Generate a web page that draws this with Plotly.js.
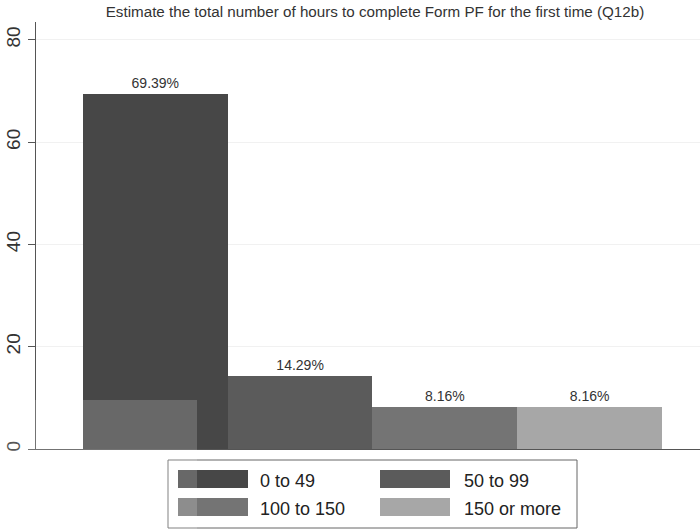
<!DOCTYPE html>
<html>
<head>
<meta charset="utf-8">
<script src="https://cdn.plot.ly/plotly-3.0.1.min.js"></script>
<style>html,body{margin:0;padding:0;background:#fff;}#chart{width:700px;height:529px;}</style>
</head>
<body>
<div id="chart"></div>
<script>
// Data
var categories = ["0 to 49", "50 to 99", "100 to 150", "150 or more"];
var percents = [69.39, 14.29, 8.16, 8.16];
var barColors = ["#474747", "#5b5b5b", "#747474", "#a7a7a7"];
var titleText = "Estimate the total number of hours to complete Form PF for the first time (Q12b)";
var yTicks = [0, 20, 40, 60, 80];
var legendOrder = [0, 1, 2, 3]; // row-major: row1: 0,1 ; row2: 2,3

var FONT = "Liberation Sans, Arial, Helvetica, sans-serif";
var W = 700, H = 529;
var M = {l: 36, r: 0, t: 22, b: 80};
var pw = W - M.l - M.r, ph = H - M.t - M.b;
function px(x) { return (x - M.l) / pw; }
function py(y) { return (H - M.b - y) / ph; }

var trace = {
  type: "bar",
  x: categories.map(function (c, i) { return i; }),
  y: percents,
  width: 1,
  marker: {color: barColors, line: {width: 0}},
  text: percents.map(function (v) { return v.toFixed(2) + "%"; }),
  textposition: "outside",
  textfont: {family: FONT, size: 14, color: "#333"},
  cliponaxis: false,
  hoverinfo: "skip",
  showlegend: false
};

var shapes = [];
var annotations = [];
// legend box
shapes.push({type: "rect", xref: "paper", yref: "paper",
  x0: px(168), x1: px(577), y0: py(528), y1: py(460),
  line: {color: "#666", width: 1}, fillcolor: "rgba(0,0,0,0)"});
var colKeyX = [178, 380], colLabelX = [258, 462];
var rowY = [[470, 488], [498, 516]];
legendOrder.forEach(function (idx, k) {
  var col = k % 2, row = Math.floor(k / 2);
  shapes.push({type: "rect", xref: "paper", yref: "paper",
    x0: px(colKeyX[col]), x1: px(colKeyX[col] + 70),
    y0: py(rowY[row][1]), y1: py(rowY[row][0]),
    line: {width: 0}, fillcolor: barColors[idx]});
  annotations.push({xref: "paper", yref: "paper", x: px(colLabelX[col]),
    y: py((rowY[row][0] + rowY[row][1]) / 2 + 2), xanchor: "left", yanchor: "middle",
    text: categories[idx], showarrow: false,
    font: {family: FONT, size: 18, color: "#222"}});
});
// faded scan artifact over the lower-left corner of the reference image
shapes.push({type: "rect", xref: "paper", yref: "paper", layer: "above",
  x0: px(0), x1: px(197), y0: py(H), y1: py(400),
  line: {width: 0}, fillcolor: "rgba(255,255,255,0.18)"});

var layout = {
  width: W, height: H,
  margin: M,
  paper_bgcolor: "#fff", plot_bgcolor: "#fff",
  showlegend: false,
  title: {text: titleText, x: 375 / W, xref: "container", y: 1 - 12 / H, yanchor: "middle",
    xanchor: "center",
    font: {family: FONT, size: 15.2, color: "#333"}},
  bargap: 0,
  xaxis: {range: [-0.824, 3.762], showticklabels: false, ticks: "", showgrid: false,
    zeroline: false, showline: true, linecolor: "#555", linewidth: 1, fixedrange: true},
  yaxis: {range: [0, 83.5], tickvals: yTicks, ticktext: yTicks.map(String),
    tickangle: -90, ticks: "outside", ticklen: 7, tickcolor: "#555",
    showline: true, linecolor: "#555", linewidth: 1, zeroline: false,
    showgrid: true, gridcolor: "#f1f1f1",
    tickfont: {family: FONT, size: 19, color: "#333"}},
  shapes: shapes,
  annotations: annotations
};

Plotly.newPlot("chart", [trace], layout, {displayModeBar: false, staticPlot: true});
</script>
</body>
</html>
